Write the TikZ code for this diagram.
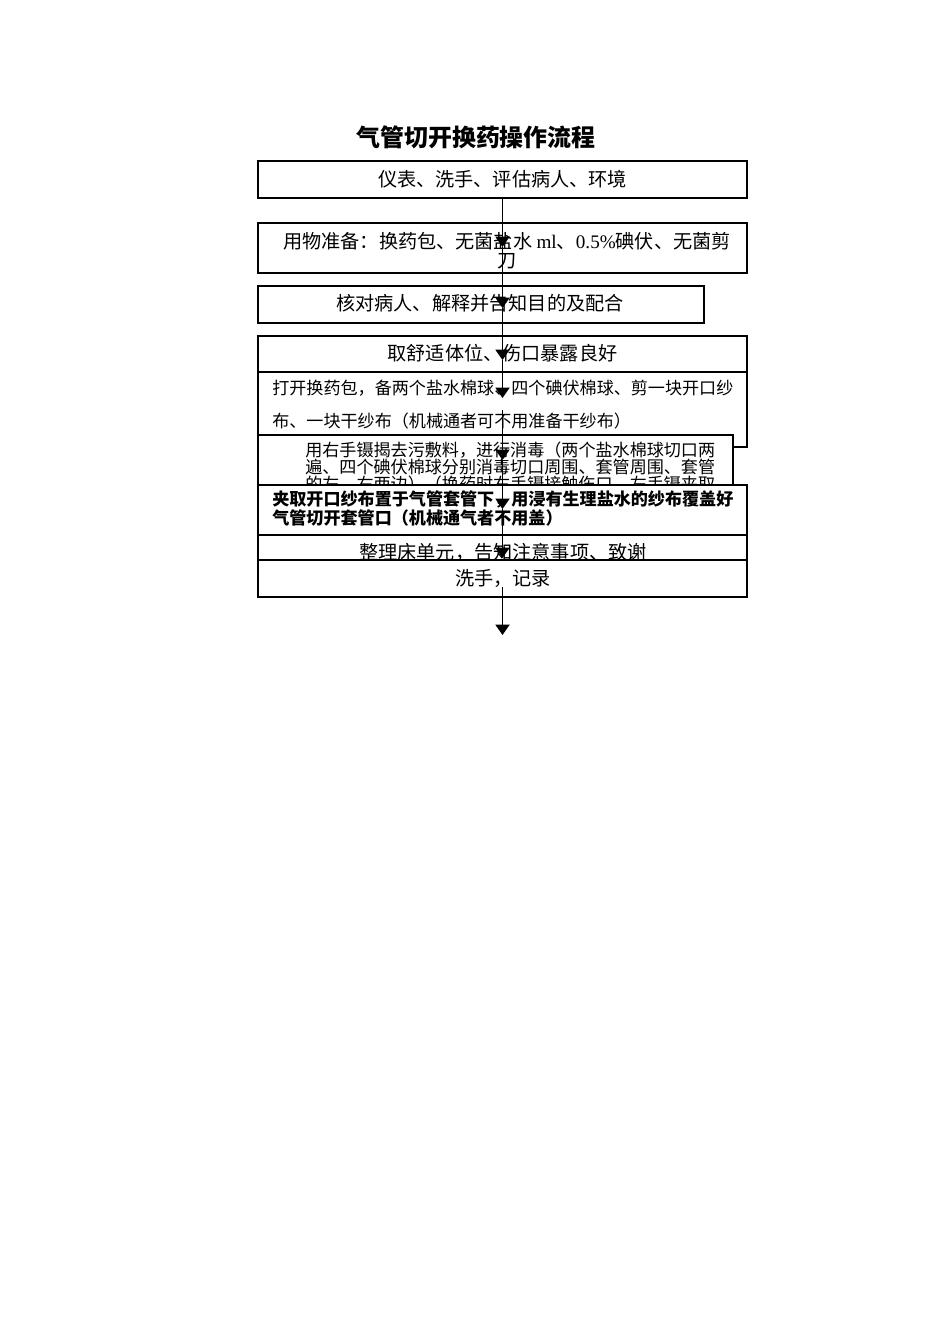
\documentclass[tikz,border=0pt]{standalone}
\usepackage{fontspec}
\setmainfont{Liberation Serif}
\newfontfamily\cjk{Noto Sans CJK SC}
\usetikzlibrary{arrows.meta, fit}

\begin{document}
\begin{tikzpicture}[
      x=0.6266pt, y=-0.6266pt,
      box/.style={draw, rectangle, fill=white, inner sep=0pt, line width=1.1pt},
      txt/.style={inner sep=0pt, font=\cjk\fontsize{12pt}{12pt}\selectfont},
      smalltxt/.style={inner sep=0pt, align=left, anchor=west,
          font=\cjk\fontsize{10.7pt}{10.7pt}\selectfont},
      arr/.style={-{Triangle[width=8.8pt, length=6.5pt]}, line width=1.1pt},
    ]
    \useasboundingbox (0,0) rectangle (950,1344);

    \node[inner sep=0pt, font=\cjk\bfseries\fontsize{15pt}{15pt}\selectfont] (title) at (476,137) {气管切开换药操作流程};

    \node[box, fit={(258,161) (747,198)}] (b1) {};
    \node[txt] (t1) at (502.5,179) {仪表、洗手、评估病人、环境};

    \node[box, fit={(258,223) (747,273)}] (b2) {};
    \node[txt, align=center] (t2) at (507,251) {用物准备：换药包、无菌盐水 {\rmfamily ml}、{\rmfamily 0.5\%}碘伏、无菌剪\\刀};

    \node[box, fit={(258,286) (704,323)}] (b3) {};
    \node[txt] (t3) at (480,303) {核对病人、解释并告知目的及配合};

    \node[box, fit={(258,336) (747,372)}] (b4) {};
    \node[txt] (t4) at (502.5,353) {取舒适体位、伤口暴露良好};

    \node[box, fit={(258,372) (747,447)}] (b5) {};
    \node[smalltxt, font=\cjk\fontsize{10.7pt}{20.7pt}\selectfont] (t5) at (272,405) {打开换药包，备两个盐水棉球、四个碘伏棉球、剪一块开口纱\\布、一块干纱布（机械通者可不用准备干纱布）};

    \node[box, fit={(258,435) (733,485)}] (b6) {};
    \node[smalltxt] (t6) at (305,467) {用右手镊揭去污敷料，进行消毒（两个盐水棉球切口两\\遍、四个碘伏棉球分别消毒切口周围、套管周围、套管\\的左、右两边）（换药时右手镊接触伤口，左手镊夹取};

    \node[box, fit={(258,485) (747,535)}] (b7) {};
    \node[smalltxt, font=\cjk\bfseries\fontsize{10.7pt}{10.7pt}\selectfont] (t7) at (272,508) {夹取开口纱布置于气管套管下，用浸有生理盐水的纱布覆盖好\\气管切开套管口（机械通气者不用盖）};

    \node[box, fit={(258,535) (747,560)}] (b8) {};
    \node[txt] (t8) at (503,552) {整理床单元，告知注意事项、致谢};

    \node[box, fit={(258,560) (747,597)}] (b9) {};
    \node[txt] (t9) at (503,578) {洗手，记录};

    \coordinate (p1) at (502.5,247);
    \coordinate (p2) at (502.5,308);
    \coordinate (p3) at (502.5,360);
    \coordinate (p4) at (502.5,398);
    \coordinate (p5) at (502.5,410);
    \coordinate (p6) at (502.5,460);
    \coordinate (p7) at (502.5,509);
    \coordinate (p8) at (502.5,558);
    \coordinate (p9) at (502.5,587);
    \coordinate (p10) at (502.5,635);

    \draw[arr] (b1.south) -- (p1);
    \draw[arr] (p1) -- (p2);
    \draw[arr] (p2) -- (p3);
    \draw[arr] (p3) -- (p4);
    \draw[arr] (p5) -- (p6);
    \draw[arr] (p6) -- (p7);
    \draw[arr] (p7) -- (p8);
    \draw[arr] (p9) -- (p10);

  \end{tikzpicture}
\end{document}
